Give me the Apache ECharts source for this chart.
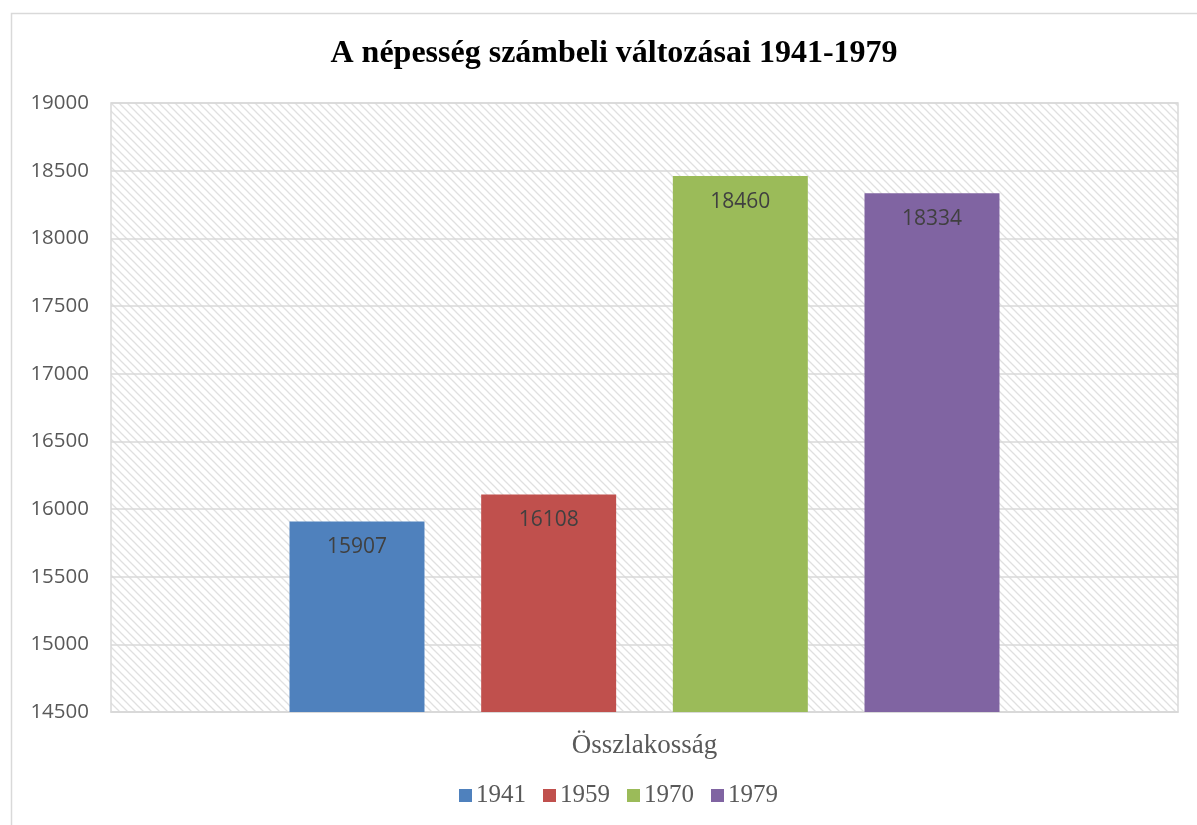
<!DOCTYPE html>
<html>
<head>
<meta charset="utf-8">
<title>A népesség számbeli változásai 1941-1979</title>
<script src="https://cdn.jsdelivr.net/npm/echarts@6/dist/echarts.min.js"></script>
<style>
  html, body { margin: 0; padding: 0; background: #fff; }
  #main { width: 1197px; height: 825px; }
</style>
</head>
<body>
<div id="main"></div>
<script type="text/javascript">
// adatok
var categories = ['Összlakosság'];
var years = ['1941', '1959', '1970', '1979'];
var pop1941 = [15907];
var pop1959 = [16108];
var pop1970 = [18460];
var pop1979 = [18334];
var yTicks = [14500, 19000, 500]; // min, max, lépés
var colors = ['#4F81BD', '#C0504D', '#9BBB59', '#8064A2'];

// csíkos háttér a rajzterülethez
var tile = document.createElement('canvas');
tile.width = 8;
tile.height = 8;
var ctx = tile.getContext('2d');
ctx.strokeStyle = '#e0e0e0';
ctx.lineWidth = 1.3;
ctx.beginPath();
ctx.moveTo(-2, -2); ctx.lineTo(10, 10);
ctx.moveTo(-2, 6); ctx.lineTo(2, 10);
ctx.moveTo(6, -2); ctx.lineTo(10, 2);
ctx.stroke();

var chart = echarts.init(document.getElementById('main'));

var seriesData = [pop1941, pop1959, pop1970, pop1979];
var series = years.map(function (y, i) {
    return {
        name: y,
        type: 'bar',
        data: seriesData[i],
        barWidth: '12.65%',
        barGap: '42%',
        itemStyle: { color: colors[i] },
        label: {
            show: true,
            position: 'insideTop',
            distance: 15,
            color: '#404040',
            fontFamily: 'Open Sans, sans-serif',
            fontSize: 21
        }
    };
});

var option = {
    animation: false,
    backgroundColor: '#fff',
    title: {
        text: 'A népesség számbeli változásai 1941-1979',
        left: 609,
        textAlign: 'center',
        top: 33,
        textStyle: {
            fontFamily: 'Liberation Serif, serif',
            fontWeight: 'bold',
            fontSize: 32,
            color: '#000'
        }
    },
    legend: {
        data: years,
        bottom: 12,
        left: 454,
        itemWidth: 13,
        itemHeight: 13,
        itemGap: 17,
        icon: 'rect',
        textStyle: {
            fontFamily: 'Liberation Serif, serif',
            fontSize: 25,
            color: '#595959',
            padding: [0, 0, 0, -1]
        }
    },
    graphic: [{
        type: 'rect',
        shape: { x: 11.5, y: 13.5, width: 1300, height: 900 },
        style: { fill: 'none', stroke: '#d9d9d9', lineWidth: 1.5 },
        silent: true,
        z: -1
    }],
    grid: {
        left: 111,
        top: 103,
        right: 19,
        bottom: 113,
        show: true,
        backgroundColor: { image: tile, repeat: 'repeat' },
        borderColor: '#d9d9d9',
        borderWidth: 1.5
    },
    xAxis: {
        type: 'category',
        data: categories,
        axisLine: { show: true, lineStyle: { color: '#d9d9d9', width: 1.5 } },
        axisTick: { show: false },
        axisLabel: {
            margin: 20,
            fontFamily: 'Liberation Serif, serif',
            fontSize: 27,
            color: '#595959'
        }
    },
    yAxis: {
        type: 'value',
        min: yTicks[0],
        max: yTicks[1],
        interval: yTicks[2],
        axisLine: { show: false },
        axisTick: { show: false },
        splitLine: { lineStyle: { color: '#d9d9d9', width: 1.5 } },
        axisLabel: {
            margin: 22,
            fontFamily: 'Open Sans, sans-serif',
            fontSize: 20.5,
            color: '#595959',
            formatter: function (v) { return String(v); }
        }
    },
    series: series
};

chart.setOption(option);
</script>
</body>
</html>
